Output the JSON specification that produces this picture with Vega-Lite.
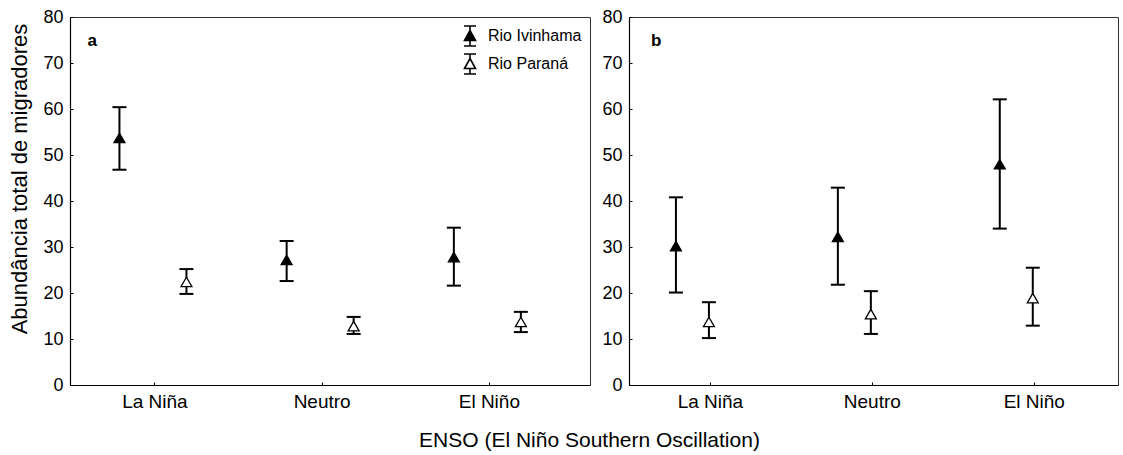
{
  "$schema": "https://vega.github.io/schema/vega-lite/v6.json",
  "padding": {"left": 8, "top": 7, "right": 6, "bottom": 5},
  "background": "white",
  "title": {"text": "ENSO (El Niño Southern Oscillation)", "orient": "bottom", "anchor": "middle", "font": "Liberation Sans", "fontSize": 21, "fontWeight": "normal", "color": "black", "offset": 18, "dx": 26},
  "data": {"values": [
    {"panel": "a", "enso": "La Niña", "rio": "Rio Ivinhama", "mean": 53.7, "lo": 46.8, "hi": 60.4},
    {"panel": "a", "enso": "La Niña", "rio": "Rio Paraná", "mean": 22.4, "lo": 19.8, "hi": 25.2},
    {"panel": "a", "enso": "Neutro", "rio": "Rio Ivinhama", "mean": 27.2, "lo": 22.6, "hi": 31.3},
    {"panel": "a", "enso": "Neutro", "rio": "Rio Paraná", "mean": 12.8, "lo": 11.1, "hi": 14.8},
    {"panel": "a", "enso": "El Niño", "rio": "Rio Ivinhama", "mean": 27.8, "lo": 21.6, "hi": 34.2},
    {"panel": "a", "enso": "El Niño", "rio": "Rio Paraná", "mean": 13.7, "lo": 11.5, "hi": 15.9},
    {"panel": "b", "enso": "La Niña", "rio": "Rio Ivinhama", "mean": 30.2, "lo": 20.1, "hi": 40.8},
    {"panel": "b", "enso": "La Niña", "rio": "Rio Paraná", "mean": 13.7, "lo": 10.2, "hi": 18.0},
    {"panel": "b", "enso": "Neutro", "rio": "Rio Ivinhama", "mean": 32.2, "lo": 21.8, "hi": 42.9},
    {"panel": "b", "enso": "Neutro", "rio": "Rio Paraná", "mean": 15.4, "lo": 11.1, "hi": 20.4},
    {"panel": "b", "enso": "El Niño", "rio": "Rio Ivinhama", "mean": 48.0, "lo": 34.0, "hi": 62.1},
    {"panel": "b", "enso": "El Niño", "rio": "Rio Paraná", "mean": 18.9, "lo": 12.9, "hi": 25.5}
  ]},
  "spacing": 10,
  "hconcat": [
    {
      "width": 520, "height": 368,
      "transform": [{"filter": "datum.panel === 'a'"}],
      "encoding": {
        "x": {"field": "enso", "type": "nominal", "sort": ["La Niña", "Neutro", "El Niño"], "scale": {"type": "point", "padding": 0.555, "align": 0.455}, "title": null},
        "xOffset": {"field": "rio", "type": "nominal", "scale": {"type": "point", "domain": ["Rio Ivinhama", "Rio Paraná"], "range": [-35, 32], "padding": 0}}
      },
      "layer": [
        {"mark": {"type": "rule", "color": "black", "strokeWidth": 2},
         "encoding": {"y": {"field": "lo", "type": "quantitative", "scale": {"domain": [0, 80]}, "title": "Abundância total de migradores"}, "y2": {"field": "hi"}}},
        {"mark": {"type": "tick", "color": "black", "size": 14, "thickness": 2, "opacity": 1},
         "encoding": {"y": {"field": "lo", "type": "quantitative", "title": "Abundância total de migradores"}}},
        {"mark": {"type": "tick", "color": "black", "size": 14, "thickness": 2, "opacity": 1},
         "encoding": {"y": {"field": "hi", "type": "quantitative", "title": "Abundância total de migradores"}}},
        {"mark": {"type": "point", "shape": "triangle-up", "size": 120, "filled": true, "stroke": "black", "strokeWidth": 1.3, "opacity": 1},
         "encoding": {
           "y": {"field": "mean", "type": "quantitative", "title": "Abundância total de migradores"},
           "fill": {"field": "rio", "type": "nominal", "scale": {"domain": ["Rio Ivinhama", "Rio Paraná"], "range": ["black", "white"]},
             "legend": {"title": null, "orient": "top-right", "offset": 3, "padding": 5, "labelFont": "Liberation Sans", "labelFontSize": 16, "labelColor": "black", "symbolType": "M-0.6,-1H0.6M0,-1V-0.45M-0.55,0.45L0,-0.55L0.55,0.45ZM0,0.45V1M-0.6,1H0.6", "symbolSize": 400, "symbolStrokeColor": "black", "symbolStrokeWidth": 1.6, "rowPadding": 0, "labelOffset": 7}}
         }},
        {"data": {"values": [{"panel": "a", "enso": "La Niña", "rio": "Rio Ivinhama", "label": "a"}]},
         "mark": {"type": "text", "align": "left", "baseline": "alphabetic", "font": "Liberation Sans", "fontSize": 17, "fontWeight": "bold", "color": "black", "dx": -32},
         "encoding": {
           "y": {"datum": 73.6, "type": "quantitative", "title": "Abundância total de migradores"},
           "text": {"field": "label"}
         }}
      ]
    },
    {
      "width": 489, "height": 368,
      "transform": [{"filter": "datum.panel === 'b'"}],
      "encoding": {
        "x": {"field": "enso", "type": "nominal", "sort": ["La Niña", "Neutro", "El Niño"], "scale": {"type": "point", "padding": 0.51, "align": 0.49}, "title": null},
        "xOffset": {"field": "rio", "type": "nominal", "scale": {"type": "point", "domain": ["Rio Ivinhama", "Rio Paraná"], "range": [-34, -1], "padding": 0}}
      },
      "layer": [
        {"mark": {"type": "rule", "color": "black", "strokeWidth": 2},
         "encoding": {"y": {"field": "lo", "type": "quantitative", "scale": {"domain": [0, 80]}, "title": null}, "y2": {"field": "hi"}}},
        {"mark": {"type": "tick", "color": "black", "size": 14, "thickness": 2, "opacity": 1},
         "encoding": {"y": {"field": "lo", "type": "quantitative", "title": null}}},
        {"mark": {"type": "tick", "color": "black", "size": 14, "thickness": 2, "opacity": 1},
         "encoding": {"y": {"field": "hi", "type": "quantitative", "title": null}}},
        {"mark": {"type": "point", "shape": "triangle-up", "size": 120, "filled": true, "stroke": "black", "strokeWidth": 1.3, "opacity": 1},
         "encoding": {
           "y": {"field": "mean", "type": "quantitative", "title": null},
           "fill": {"field": "rio", "type": "nominal", "scale": {"domain": ["Rio Ivinhama", "Rio Paraná"], "range": ["black", "white"]}, "legend": null}
         }},
        {"data": {"values": [{"panel": "b", "enso": "La Niña", "rio": "Rio Paraná", "label": "b"}]},
         "mark": {"type": "text", "align": "left", "baseline": "alphabetic", "font": "Liberation Sans", "fontSize": 17, "fontWeight": "bold", "color": "black", "dx": -58},
         "encoding": {
           "y": {"datum": 73.6, "type": "quantitative", "title": null},
           "text": {"field": "label"}
         }}
      ]
    }
  ],
  "resolve": {"scale": {"fill": "independent", "xOffset": "independent"}},
  "config": {
    "view": {"stroke": "#333", "strokeWidth": 1},
    "axis": {"grid": false, "domainColor": "black", "domainWidth": 1.2, "tickColor": "black", "tickSize": -3, "labelFont": "Liberation Sans", "labelColor": "black", "titleFont": "Liberation Sans", "titleColor": "black", "titleFontWeight": "normal"},
    "axisY": {"values": [0, 10, 20, 30, 40, 50, 60, 70, 80], "labelFontSize": 18, "labelPadding": 10, "titleFontSize": 22, "titlePadding": 11, "titleY": 161.5},
    "axisX": {"labelAngle": 0, "labelFontSize": 19, "labelPadding": 10}
  }
}
